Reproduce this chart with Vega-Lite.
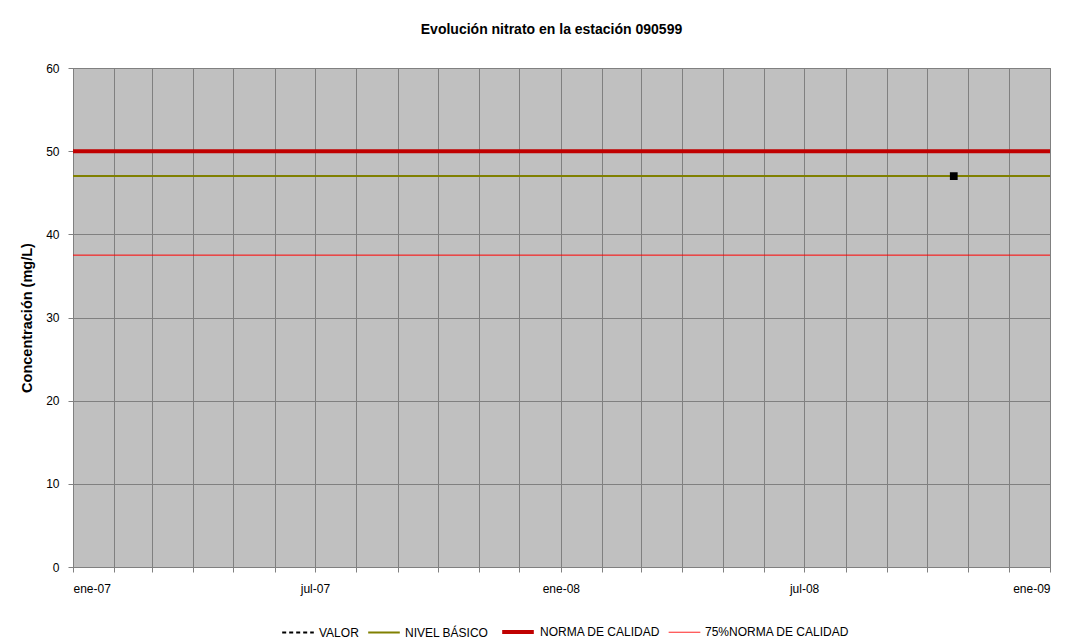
{
  "$schema": "https://vega.github.io/schema/vega-lite/v6.json",
  "width": 977,
  "height": 499,
  "autosize": {"type": "none"},
  "padding": {"left": 73, "top": 68, "right": 35, "bottom": 77},
  "background": "white",
  "title": {
    "text": "Evolución nitrato en la estación 090599",
    "font": "Liberation Sans",
    "fontSize": 14,
    "fontWeight": "bold",
    "color": "black",
    "offset": 25,
    "dx": -10,
    "anchor": "middle"
  },
  "config": {
    "view": {"fill": "#C0C0C0", "stroke": "#808080", "strokeWidth": 1},
    "axis": {
      "labelFont": "Liberation Sans",
      "labelFontSize": 12,
      "labelColor": "black",
      "titleFont": "Liberation Sans",
      "gridColor": "#808080",
      "gridWidth": 1,
      "domainColor": "#808080",
      "tickColor": "#808080"
    }
  },
  "datasets": {
    "refs": [
      {"fecha": "2007-01-01", "serie": "NIVEL BÁSICO", "valor": 47},
      {"fecha": "2009-01-01", "serie": "NIVEL BÁSICO", "valor": 47},
      {"fecha": "2007-01-01", "serie": "NORMA DE CALIDAD", "valor": 50},
      {"fecha": "2009-01-01", "serie": "NORMA DE CALIDAD", "valor": 50},
      {"fecha": "2007-01-01", "serie": "75%NORMA DE CALIDAD", "valor": 37.5},
      {"fecha": "2009-01-01", "serie": "75%NORMA DE CALIDAD", "valor": 37.5}
    ],
    "medidas": [
      {"fecha": "2008-10-21", "serie": "VALOR", "valor": 47}
    ]
  },
  "layer": [
    {
      "data": {"name": "refs"},
      "mark": {"type": "line", "clip": true},
      "encoding": {
        "x": {
          "field": "fecha",
          "type": "temporal",
          "scale": {"type": "utc", "domain": [{"year": 2007, "month": 1, "date": 1, "utc": true}, {"year": 2009, "month": 1, "date": 1, "utc": true}]},
          "axis": {
            "title": null,
            "tickCount": {"interval": "month", "step": 1},
            "grid": true,
            "tickSize": 5,
            "labelPadding": 11,
            "labelOverlap": false,
            "labelExpr": "utcmonth(datum.value) == 0 ? 'ene-' + utcFormat(datum.value, '%y') : (utcmonth(datum.value) == 6 ? 'jul-' + utcFormat(datum.value, '%y') : '')"
          }
        },
        "y": {
          "field": "valor",
          "type": "quantitative",
          "scale": {"domain": [0, 60], "nice": false},
          "axis": {
            "title": "Concentración (mg/L)",
            "titleFontSize": 14.5,
            "titleFontWeight": "bold",
            "titleColor": "black",
            "titlePadding": 11,
            "values": [0, 10, 20, 30, 40, 50, 60],
            "tickSize": 5,
            "labelPadding": 9,
            "grid": true
          }
        },
        "color": {
          "field": "serie",
          "type": "nominal",
          "scale": {
            "domain": ["VALOR", "NIVEL BÁSICO", "NORMA DE CALIDAD", "75%NORMA DE CALIDAD"],
            "range": ["#000000", "#808000", "#C00000", "#FF0000"]
          },
          "legend": {
            "title": null,
            "orient": "none",
            "direction": "horizontal",
            "legendX": 208,
            "legendY": 546,
            "symbolType": "stroke",
            "symbolSize": 1000,
            "labelFont": "Liberation Sans",
            "labelFontSize": 12,
            "labelColor": "black",
            "columnPadding": 5,
            "labelOffset": 4
          }
        },
        "strokeWidth": {
          "field": "serie",
          "type": "nominal",
          "scale": {
            "type": "ordinal",
            "domain": ["VALOR", "NIVEL BÁSICO", "NORMA DE CALIDAD", "75%NORMA DE CALIDAD"],
            "range": [2, 2, 4, 1]
          },
          "legend": null
        },
        "strokeDash": {
          "field": "serie",
          "type": "nominal",
          "scale": {
            "domain": ["VALOR", "NIVEL BÁSICO", "NORMA DE CALIDAD", "75%NORMA DE CALIDAD"],
            "range": [[4, 3], [1, 0], [1, 0], [1, 0]]
          },
          "legend": null
        }
      }
    },
    {
      "data": {"name": "medidas"},
      "mark": {"type": "point", "shape": "square", "filled": true, "size": 60, "color": "black", "opacity": 1},
      "encoding": {
        "x": {"field": "fecha", "type": "temporal"},
        "y": {"field": "valor", "type": "quantitative"}
      }
    }
  ]
}
